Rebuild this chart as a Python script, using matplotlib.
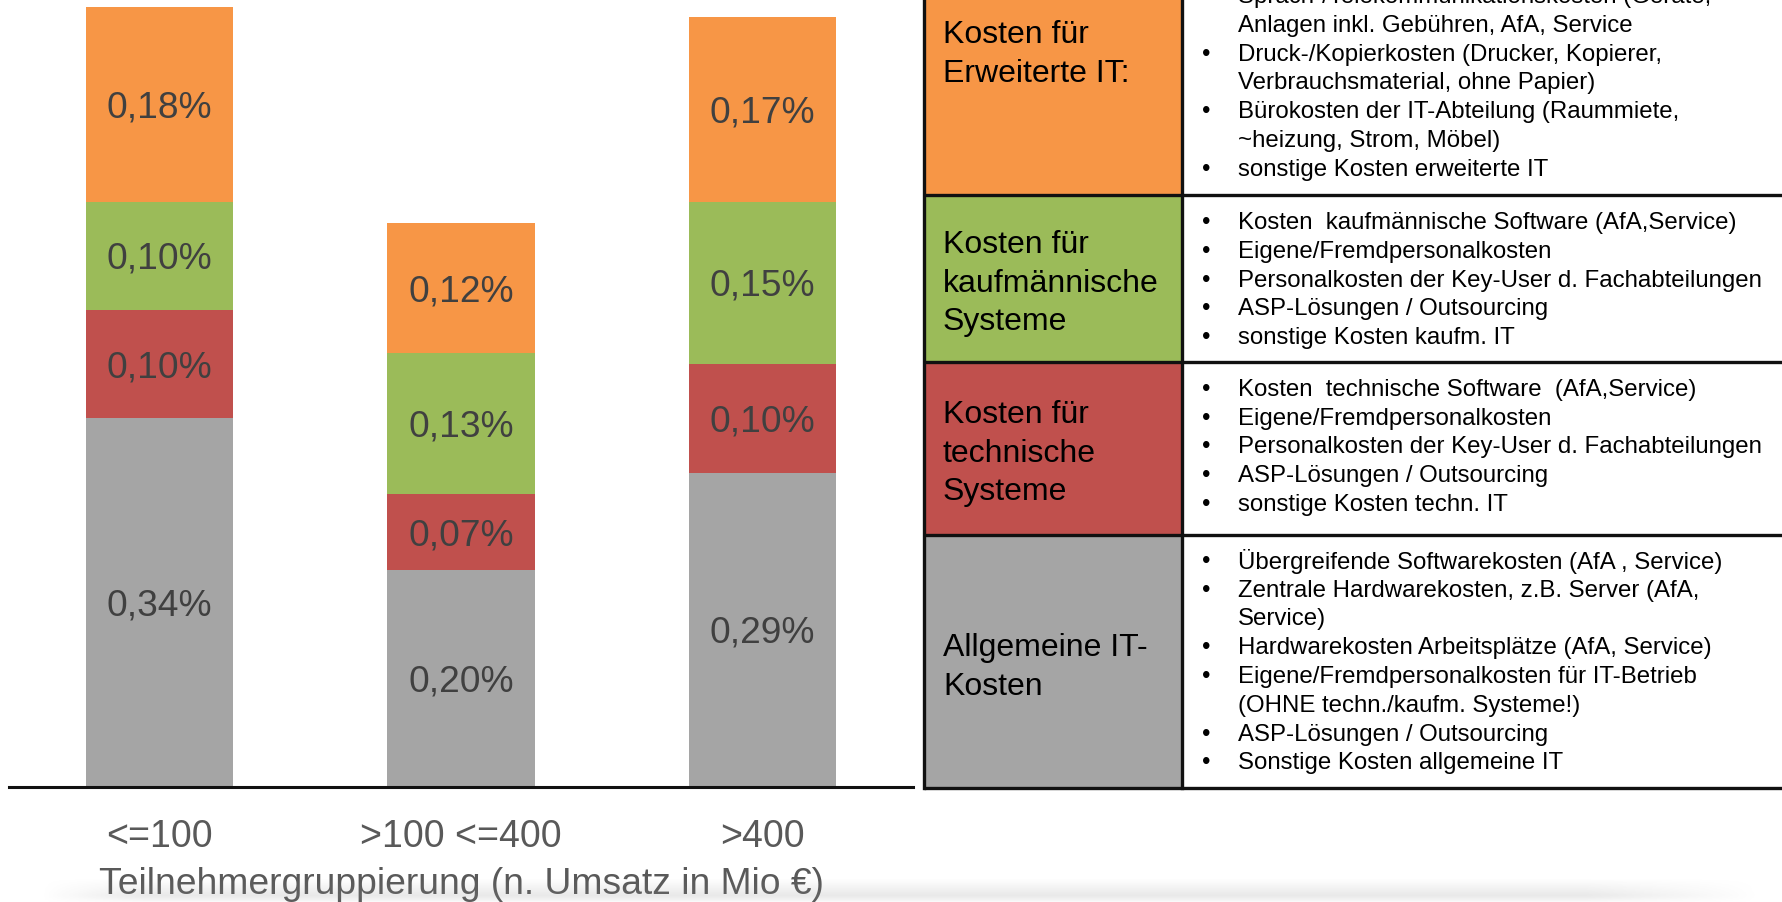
import numpy as np
import matplotlib
matplotlib.use('Agg')
from matplotlib import pyplot as plt
from matplotlib.patches import Rectangle

plt.rcParams['font.family'] = ['Liberation Sans', 'DejaVu Sans']

# Daten (IT-Kosten in % vom Umsatz)
groups = ['<=100', '>100 <=400', '>400']
allgemein = [0.34, 0.20, 0.29]
technisch = [0.10, 0.07, 0.10]
kaufm = [0.10, 0.13, 0.15]
erweitert = [0.18, 0.12, 0.17]
series = [allgemein, technisch, kaufm, erweitert]
colors = ['#A5A5A5', '#C0504D', '#9BBB59', '#F79646']

# Tabelle rechts
row_colors = ['#F79646', '#9BBB59', '#C0504D', '#A5A5A5']
row_heads = [['Kosten für', 'Erweiterte IT:'],
             ['Kosten für', 'kaufmännische', 'Systeme'],
             ['Kosten für', 'technische', 'Systeme'],
             ['Allgemeine IT-', 'Kosten']]
row_lines = [
    [(True, 'Sprach-/Telekommunikationskosten (Geräte,'),
     (False, 'Anlagen inkl. Gebühren, AfA, Service'),
     (True, 'Druck-/Kopierkosten (Drucker, Kopierer,'),
     (False, 'Verbrauchsmaterial, ohne Papier)'),
     (True, 'Bürokosten der IT-Abteilung (Raummiete,'),
     (False, '~heizung, Strom, Möbel)'),
     (True, 'sonstige Kosten erweiterte IT')],
    [(True, 'Kosten  kaufmännische Software (AfA,Service)'),
     (True, 'Eigene/Fremdpersonalkosten'),
     (True, 'Personalkosten der Key-User d. Fachabteilungen'),
     (True, 'ASP-Lösungen / Outsourcing'),
     (True, 'sonstige Kosten kaufm. IT')],
    [(True, 'Kosten  technische Software  (AfA,Service)'),
     (True, 'Eigene/Fremdpersonalkosten'),
     (True, 'Personalkosten der Key-User d. Fachabteilungen'),
     (True, 'ASP-Lösungen / Outsourcing'),
     (True, 'sonstige Kosten techn. IT')],
    [(True, 'Übergreifende Softwarekosten (AfA , Service)'),
     (True, 'Zentrale Hardwarekosten, z.B. Server (AfA,'),
     (False, 'Service)'),
     (True, 'Hardwarekosten Arbeitsplätze (AfA, Service)'),
     (True, 'Eigene/Fremdpersonalkosten für IT-Betrieb'),
     (False, '(OHNE techn./kaufm. Systeme!)'),
     (True, 'ASP-Lösungen / Outsourcing'),
     (True, 'Sonstige Kosten allgemeine IT')],
]

W, H = 1783, 902
fig = plt.figure(figsize=(W / 100, H / 100), dpi=100)

#%% Balkendiagramm
ax = fig.add_axes([9 / W, (H - 787) / H, (913 - 9) / W, 787 / H])
x = np.arange(len(groups))
bottom = np.zeros(len(groups))
for vals, c in zip(series, colors):
    bars = ax.bar(x, vals, width=0.488, bottom=bottom, color=c, edgecolor='none')
    for b, v, b0 in zip(bars, vals, bottom):
        ax.annotate(('%.2f%%' % v).replace('.', ','),
                    (b.get_x() + b.get_width() / 2, b0 + v / 2),
                    xytext=(0, -2.5), textcoords='offset points',
                    ha='center', va='center', fontsize=26.7, color='#404040')
    bottom += np.array(vals)

ax.set_xlim(-0.5, 2.5)
ax.set_ylim(0, 787 / 1084)
for s in ['top', 'left', 'right']:
    ax.spines[s].set_visible(False)
ax.spines['bottom'].set_linewidth(2.2)
ax.spines['bottom'].set_color('#111111')
ax.set_yticks([])
ax.set_xticks(x)
ax.set_xticklabels(groups, fontsize=27, color='#595959')
ax.tick_params(axis='x', length=0, pad=23)
ax.set_xlabel('Teilnehmergruppierung (n. Umsatz in Mio €)', fontsize=26.8,
              color='#595959', va='center')
ax.xaxis.set_label_coords(0.5, (787 - 884) / 787)
ax.patch.set_visible(False)

#%% Tabelle
ov = fig.add_axes([0, 0, 1, 1])
ov.set_xlim(0, W)
ov.set_ylim(H, 0)
ov.axis('off')

# Schatten unten
ys = np.linspace(0, 1, 30)
xs = np.linspace(0, 1, 400)
prof_y = np.clip(ys * 1.3, 0, 1) * np.clip((1 - ys) * 3, 0, 1)
prof_x = np.clip(xs / 0.06, 0, 1) * np.clip((1 - xs) / 0.1, 0, 1)
shade = np.zeros((30, 400, 4))
shade[..., :3] = 0.55
shade[..., 3] = 0.22 * np.outer(prof_y, prof_x)
ov.imshow(shade, extent=[40, 1760, 904, 878], aspect='auto', zorder=0)

row_edges = [-40, 195, 362, 535, 788]
head_centers = [54.5, 283.5, 453.5, 667.5]
body_centers = [83.5, 280.5, 447.5, 662.5]
xl, xm, xr = 924, 1182, 1800
for i in range(4):
    y0, y1 = row_edges[i], row_edges[i + 1]
    ov.add_patch(Rectangle((xl, y0), xm - xl, y1 - y0, facecolor=row_colors[i],
                           edgecolor='none', zorder=1))
    hs = row_heads[i]
    for k, t in enumerate(hs):
        yy = head_centers[i] + (k - (len(hs) - 1) / 2) * 38.5
        ov.text(943, yy, t, fontsize=23, color='black', ha='left', va='center', zorder=3)
    ls = row_lines[i]
    for k, (bul, t) in enumerate(ls):
        yy = body_centers[i] + (k - (len(ls) - 1) / 2) * 28.8
        if bul:
            ov.text(1206, yy, '•', fontsize=17.3, color='black', ha='center', va='center', zorder=3)
        ov.text(1238, yy, t, fontsize=17.3, color='black', ha='left', va='center', zorder=3)

# Linien
for y in row_edges[1:]:
    ov.plot([xl, xr], [y, y], color='#111111', lw=2.4, zorder=2, solid_capstyle='butt')
ov.plot([xl, xl], [-10, 788], color='#111111', lw=2.4, zorder=2)
ov.plot([xm, xm], [-10, 788], color='#111111', lw=2.4, zorder=2)

fig.savefig('out.png', dpi=100)
